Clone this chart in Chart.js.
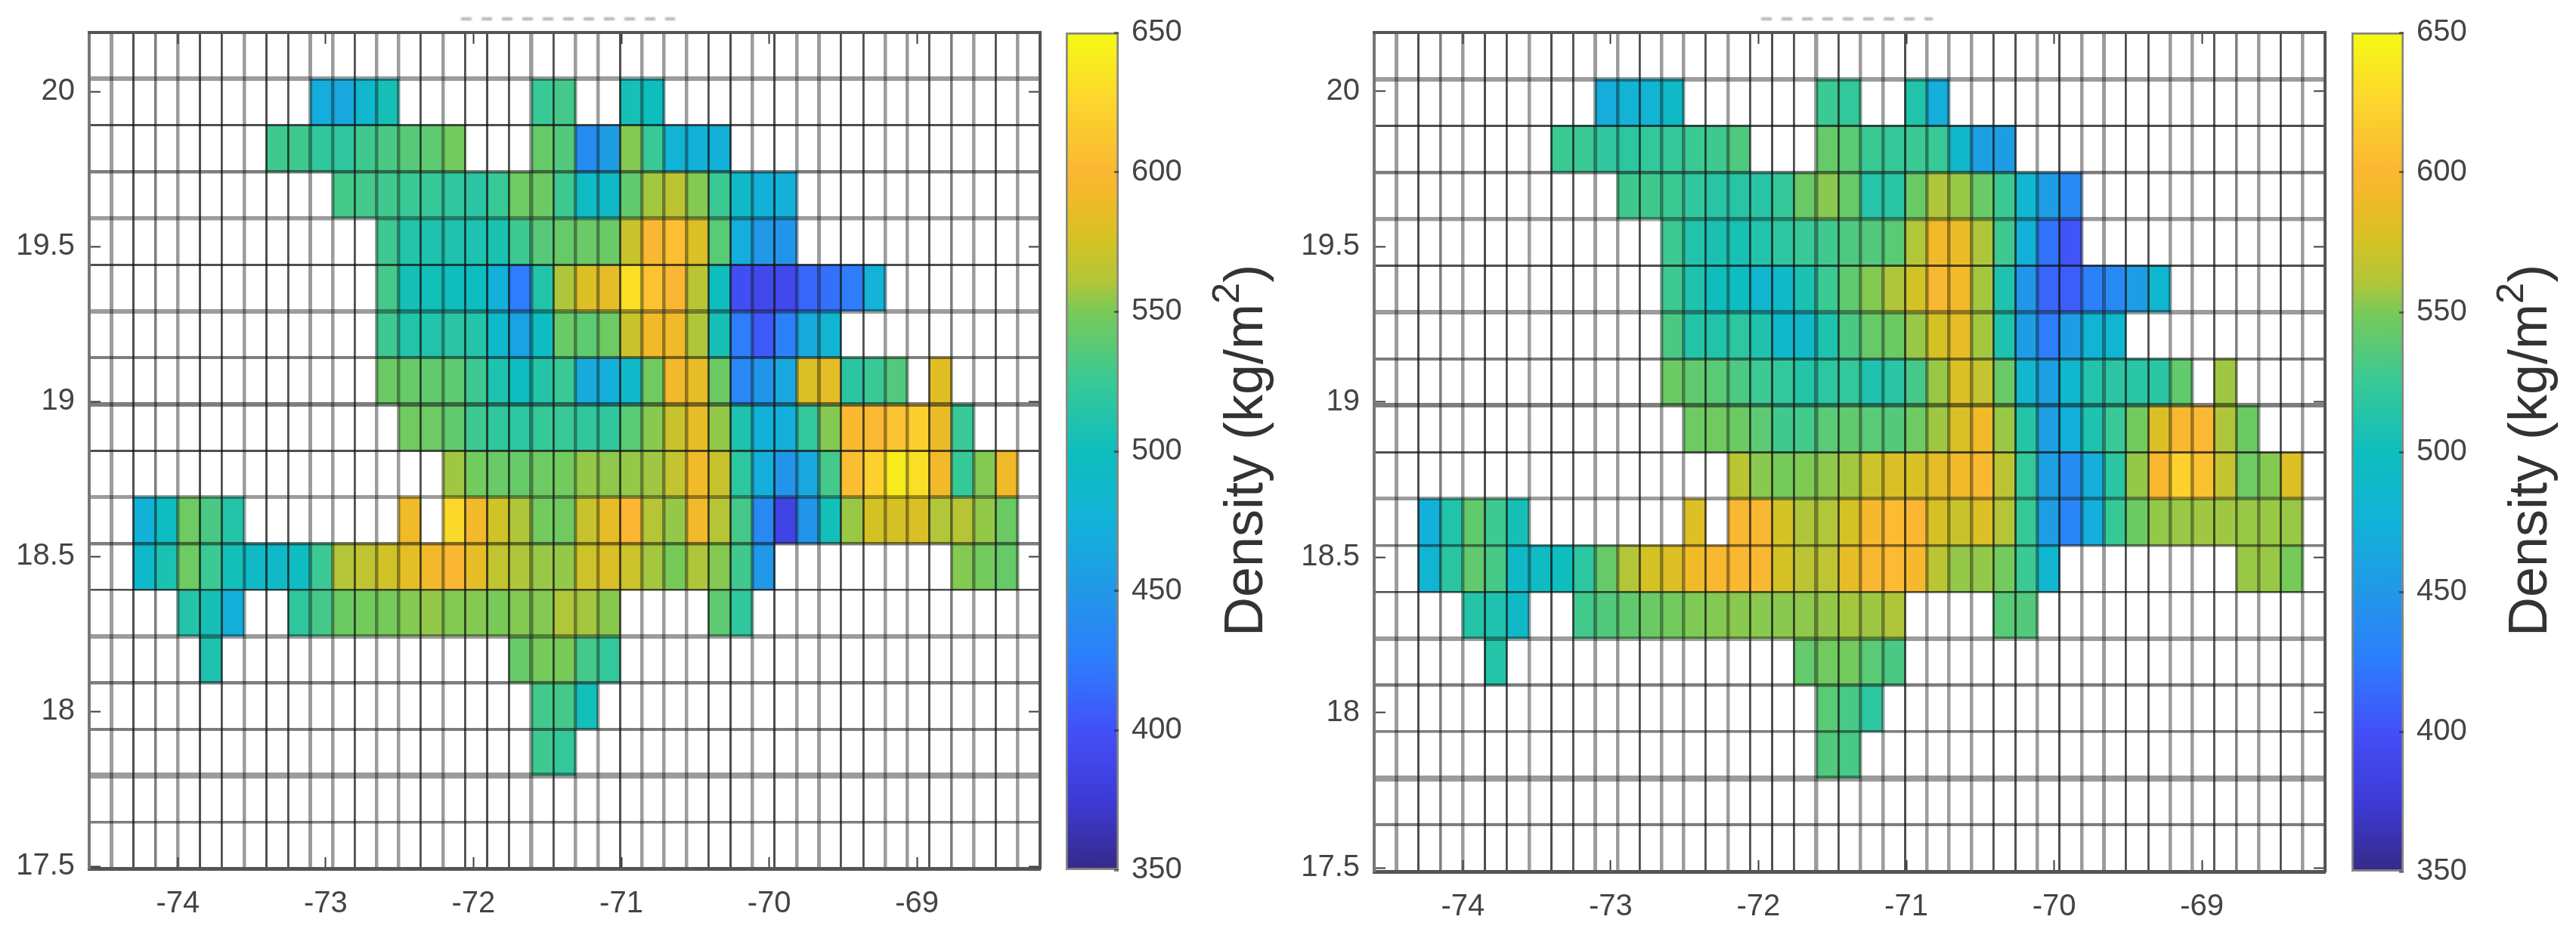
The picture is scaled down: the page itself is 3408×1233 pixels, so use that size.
<!DOCTYPE html>
<html>
<head>
<meta charset="utf-8">
<title>Density</title>
<script src="https://cdn.jsdelivr.net/npm/chart.js@4/dist/chart.umd.js"></script>
<style>
html,body{margin:0;padding:0;background:#fff;width:3408px;height:1233px;overflow:hidden}
canvas{position:absolute;top:0;filter:blur(0.7px)}
.dens{position:absolute;font:72px "Liberation Sans",Arial,sans-serif;color:#333;white-space:nowrap;transform-origin:0 0;transform:rotate(-90deg);filter:blur(0.7px);line-height:1}
.dens sup{font-size:.7em;line-height:0;vertical-align:.62em}
.cut{position:absolute;top:23px;height:4px;background:repeating-linear-gradient(90deg,#b5b5b5 0 14px,#fff 14px 27px);filter:blur(1px)}
</style>
</head>
<body>
<div class="cut" style="left:610px;width:283px"></div>
<div class="cut" style="left:2330px;width:227px"></div>
<script>
// ---- axis data ----
const lonTicks = [-74, -73, -72, -71, -70, -69];
const latTicks = [17.5, 18, 18.5, 19, 19.5, 20];
const barTicks = [350, 400, 450, 500, 550, 600, 650];
const barRange = [350, 650];
const lonStart = -74.6, lonStep = 0.1496, lonCells = 43;
const latCells = 18;

// ---- cell values (kg/m2): row index from the top, each segment = [first column, values...] ----
const modelRows = [
 [],
 [[10,470,465,485,505],[20,525,530],[24,505,500]],
 [[8,528,528,520,520,528,532,537,540,548],[20,543,535,440,455,552,525,478,475,473]],
 [[11,530,530,528,525,523,520,517,525,546,545,527,495,492,541,558,565,552,526,490,475,473]],
 [[13,527,513,510,510,509,508,527,537,543,544,544,570,598,607,580,538,470,450,447]],
 [[13,530,505,503,500,497,474,425,512,560,580,585,632,610,600,565,500,398,392,390,412,418,425,477]],
 [[13,527,512,512,517,513,487,460,497,544,540,546,570,592,590,560,505,425,405,428,467,482]],
 [[13,545,543,541,540,527,510,498,513,525,468,472,488,547,592,585,545,435,448,465,578,583,517,525,535],[38,582]],
 [[14,547,546,541,527,521,518,524,525,520,520,538,553,570,585,555,510,475,472,522,552,597,602,610,620,588,525]],
 [[16,557,548,544,543,546,548,555,554,555,557,568,590,570,518,472,447,465,530,605,622,640,632,592,524,552,590]],
 [[2,475,497,546,532,513],[14,590],[16,628,592,573,560,548,547,570,585,600,563,555,592,563,530,436,385,447,503,556,575,576,578,561,563,555,545]],
 [[2,487,508,546,526,503,492,490,497,526,562,567,573,583,592,600,585,567,560,556,555,572,578,571,558,550,560,552,528,450],[39,552,548,543]],
 [[4,513,505,473],[9,520,530,545,548,549,552,555,552,552,550,552,552,561,558,553],[28,540,520]],
 [[5,510],[19,543,549,550,530,522]],
 [[20,529,530,503]],
 [[20,527,522]],
 [],
 []
];
const reanalysisRows = [
 [],
 [[10,470,478,480,492],[20,526,522],[24,512,472]],
 [[8,526,526,520,518,522,523,526,528,534],[20,543,538,526,523,526,525,488,458,456]],
 [[11,528,528,526,520,515,515,515,523,544,553,543,514,516,544,560,556,544,526,483,455,437]],
 [[13,527,512,507,506,512,519,525,528,534,535,538,561,590,587,560,527,473,420,402]],
 [[13,527,510,500,498,485,490,508,526,541,552,560,574,598,592,558,510,448,412,408,428,437,456,483]],
 [[13,532,513,512,518,510,487,488,510,532,543,545,556,575,585,558,510,456,425,455,480,482]],
 [[13,545,541,538,533,526,522,513,518,522,510,516,530,556,578,568,544,485,458,485,512,517,516,517,541],[38,557]],
 [[14,546,547,545,539,528,529,538,541,538,536,546,557,578,590,556,513,457,473,510,525,548,578,598,602,560,545]],
 [[16,565,553,549,551,554,558,572,578,577,584,592,597,565,522,457,440,472,517,555,597,622,608,568,546,552,580]],
 [[2,473,512,541,527,505],[14,580],[16,598,598,574,560,561,575,595,604,600,576,570,580,562,524,455,433,472,524,545,555,556,557,557,556,556,556]],
 [[2,482,517,541,531,490,495,500,518,543,562,575,581,590,597,599,598,575,565,566,585,597,603,595,565,555,555,548,526,483],[39,556,556,549]],
 [[4,513,510,490],[9,529,535,541,545,548,551,552,553,553,553,554,555,558,557,560],[28,538,536]],
 [[5,513],[19,542,547,548,538,532]],
 [[20,538,531,518]],
 [[20,535,531]],
 [],
 []
];

// ---- colour map ----
const cmapValues = [350,375,400,425,450,475,500,525,550,560,575,590,600,625,650];
const cmapColors = [[53,42,135],[62,58,215],[66,80,248],[45,125,252],[33,152,232],[18,178,216],[14,190,190],[56,201,150],[120,202,88],[175,198,58],[212,194,37],[240,186,40],[251,183,51],[252,213,45],[246,250,20]];
function valueColor(v){
  let i = 0;
  while (i < cmapValues.length-2 && v > cmapValues[i+1]) i++;
  const t = Math.max(0, Math.min(1, (v-cmapValues[i])/(cmapValues[i+1]-cmapValues[i])));
  const a = cmapColors[i], b = cmapColors[i+1];
  return `rgb(${a.map((c,k)=>Math.round(c+(b[k]-c)*t)).join(',')})`;
}

// ---- line styles of the grid (resampled look of the source image) ----
const D = 'rgba(20,20,20,0.75)', M = 'rgba(20,20,20,0.55)', L = 'rgba(20,20,20,0.42)';
const vStyle = [[D,0],[L,5],[D,3],[M,3.5],[L,4.5],[D,3],[D,2.8],[L,4.5],[D,3],[D,2.8],[L,5],[L,4.5],[D,2.8],[L,4.5],[L,4.5],[D,2.8],[L,4.5],[D,2.8],[D,3],[D,2.8],[L,5.5],[D,2.8],[L,4.5],[L,4.5],[D,3],[L,4.5],[L,4.5],[L,4.5],[D,2.8],[D,3],[L,4.5],[D,3],[L,4.5],[L,5],[D,2.8],[D,2.8],[L,4.5],[L,4.5],[D,2.8],[M,3.5],[L,4.5],[D,2.8],[L,4.5],[D,0]];
// listed from the top line down
const hStyleA = [[D,0],[L,6],[D,3],[M,4.5],[L,5.5],[D,3],[L,6],[M,4],[M,6],[D,3],[L,5],[M,4.5],[D,2.6],[L,6],[M,4.5],[M,4],[L,8],[M,3.5],[D,0]];
const hStyleB = [[D,0],[L,6],[D,3],[M,4.5],[L,5.5],[D,3],[L,6],[M,4],[M,6],[D,3],[L,5],[M,3.5],[D,2.6],[L,6],[M,4.5],[M,3.5],[L,8],[M,4],[D,0]];
const pick = (arr, i) => arr[i] || [D,0];

const edges = (start, step, n) => Array.from({length:n+1}, (_,i)=>+(start+i*step).toFixed(4));
const setTicks = vals => s => { s.ticks = vals.map(v=>({value:v})); };
// fix an axis' box size and drop the extra room Chart.js keeps for its end labels
const fixW = w => s => { s.width = w; s.paddingTop = 0; s.paddingBottom = 0; };
const fixH = h => s => { s.height = h; s.paddingLeft = 0; s.paddingRight = 0; };
const LABEL = {family:'"Liberation Sans",Arial,sans-serif', size:40};

function rowDatasets(rows, lonE, latE){
  return rows.map((segs, r) => {
    const lo = latE[latCells-1-r], hi = latE[latCells-r], data = [];
    segs.forEach(seg => seg.slice(1).forEach((v,k) => {
      const c = seg[0]+k;
      data.push({x:(lonE[c]+lonE[c+1])/2, y:[lo,hi], v});
    }));
    return {
      label:'row '+r, data, xAxisID:'x', yAxisID:'y',
      backgroundColor: ctx => ctx.raw ? valueColor(ctx.raw.v) : '#fff',
      borderWidth:0, borderSkipped:false,
      grouped:false, categoryPercentage:1, barPercentage:1
    };
  });
}

function heatmap(left, geom, rows, hStyle){
  const c = document.createElement('canvas');
  const W = geom.right-left+30, H = 1233;
  c.width=W; c.height=H; c.style.left=left+'px'; c.style.width=W+'px'; c.style.height=H+'px';
  document.body.appendChild(c);
  const lonE = edges(lonStart, lonStep, lonCells);
  const latE = edges(geom.latStart, geom.latStep, latCells);
  const lonRange = {min:lonStart, max:lonStart+lonStep*lonCells, offset:false};
  const latRange = {min:geom.latStart, max:geom.latStart+geom.latStep*latCells};
  const tickGrid = {offset:false, drawOnChartArea:false, drawTicks:true, tickLength:-15, tickColor:'#3c3c3c', tickWidth:2, z:3};
  const bw = geom.left-left;
  new Chart(c, {
    type:'bar',
    data:{datasets:rowDatasets(rows, lonE, latE)},
    options:{
      responsive:false, animation:false, events:[],
      layout:{padding:{top:43, right:30, left:0, bottom:0}},
      plugins:{legend:{display:false}, tooltip:{enabled:false}, title:{display:false}},
      scales:{
        xGrid:{type:'linear', position:'bottom', ...lonRange, afterBuildTicks:setTicks(lonE), afterFit:fixH(0),
          ticks:{display:false, autoSkip:false}, border:{display:false},
          grid:{offset:false, z:1, drawTicks:false, color:x=>pick(vStyle,x.index)[0], lineWidth:x=>pick(vStyle,x.index)[1]}},
        yGrid:{type:'linear', position:'left', ...latRange, afterBuildTicks:setTicks(latE), afterFit:fixW(0),
          ticks:{display:false, autoSkip:false}, border:{display:false},
          grid:{z:1, drawTicks:false, color:x=>pick(hStyle,latCells-x.index)[0], lineWidth:x=>pick(hStyle,latCells-x.index)[1]}},
        x:{type:'linear', position:'bottom', ...lonRange, afterBuildTicks:setTicks(lonTicks), afterFit:fixH(H-geom.bottom),
          ticks:{autoSkip:false, maxRotation:0, font:LABEL, color:'#444', padding:38, callback:v=>String(v)},
          border:{color:'#555', width:5, z:3}, grid:tickGrid},
        y:{type:'linear', position:'left', ...latRange, afterBuildTicks:setTicks(latTicks), afterFit:fixW(bw),
          ticks:{autoSkip:false, font:LABEL, color:'#444', padding:34, callback:v=>String(v)},
          border:{color:'#777', width:4, z:3}, grid:tickGrid},
        xTop:{type:'linear', position:'top', ...lonRange, afterBuildTicks:setTicks(lonTicks), afterFit:fixH(0),
          ticks:{display:false, autoSkip:false}, border:{color:'#555', width:4, z:3}, grid:tickGrid},
        yRight:{type:'linear', position:'right', ...latRange, afterBuildTicks:setTicks(latTicks), afterFit:fixW(0),
          ticks:{display:false, autoSkip:false}, border:{color:'#555', width:4, z:3}, grid:tickGrid}
      }
    }
  });
}

function colorbar(barLeft, barRight, bottom){
  const c = document.createElement('canvas');
  const left = barLeft-10, W = barRight-left+100, H = 1233;
  c.width=W; c.height=H; c.style.left=left+'px'; c.style.width=W+'px'; c.style.height=H+'px';
  document.body.appendChild(c);
  new Chart(c, {
    type:'bar',
    data:{labels:['Density'], datasets:[{
      data:[barRange],
      categoryPercentage:1, barPercentage:1,
      backgroundColor:ctx=>{
        const ca = ctx.chart.chartArea, y = ctx.chart.scales.y;
        if(!ca || !y) return '#888';
        const g = ctx.chart.ctx.createLinearGradient(0, y.getPixelForValue(barRange[0]), 0, y.getPixelForValue(barRange[1]));
        cmapValues.forEach((v,i)=>g.addColorStop((v-barRange[0])/(barRange[1]-barRange[0]), valueColor(v)));
        return g;
      },
      borderColor:'rgba(70,70,60,0.65)', borderWidth:3, borderSkipped:false
    }]},
    options:{
      responsive:false, animation:false, events:[],
      layout:{padding:{top:43, bottom:H-bottom, left:10, right:0}},
      plugins:{legend:{display:false}, tooltip:{enabled:false}},
      scales:{
        x:{display:false},
        y:{type:'linear', position:'right', min:barRange[0], max:barRange[1], afterBuildTicks:setTicks(barTicks), afterFit:fixW(100),
          ticks:{autoSkip:false, font:LABEL, color:'#444', padding:23, callback:v=>String(v)},
          border:{display:false},
          grid:{offset:false, drawOnChartArea:false, tickLength:-6, tickColor:'rgba(40,40,40,0.6)', tickWidth:3, z:3}}
      }
    }
  });
}

function densityLabel(baseX, centerY){
  const d = document.createElement('div');
  d.className = 'dens';
  d.innerHTML = 'Density (kg/m<sup>2</sup>)';
  document.body.appendChild(d);
  const w = d.offsetWidth, h = d.offsetHeight;
  d.style.left = (baseX-h+14)+'px';
  d.style.top = (centerY+w/2)+'px';
}

Chart.defaults.font.family = '"Liberation Sans",Arial,sans-serif';
heatmap(0, {left:118, right:1376, bottom:1149, latStart:17.493, latStep:0.1499}, modelRows, hStyleA);
heatmap(1700, {left:1818, right:3076, bottom:1153, latStart:17.488, latStep:0.1501}, reanalysisRows, hStyleB);
colorbar(1410, 1480, 1151);
colorbar(3111, 3180, 1153);
densityLabel(1667, 596);
densityLabel(3366, 596);
</script>
</body>
</html>
